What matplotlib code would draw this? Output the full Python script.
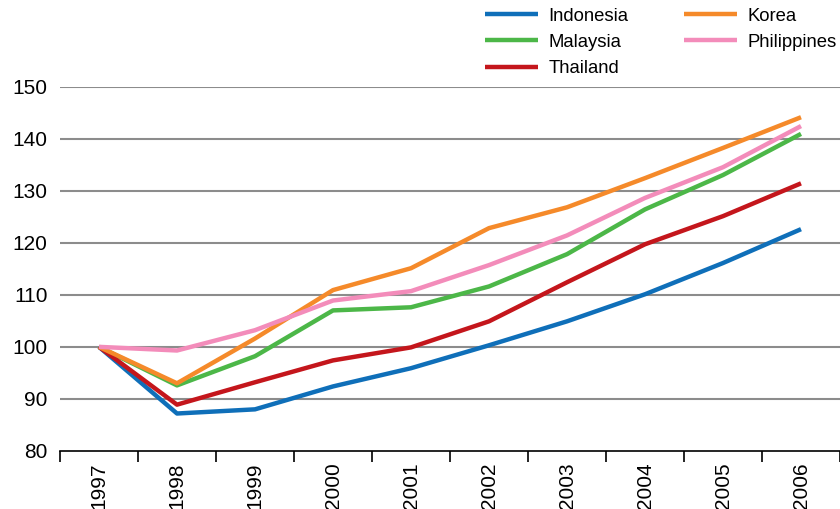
import numpy as np
import matplotlib
matplotlib.use("Agg")
import matplotlib.pyplot as plt

plt.rcParams['font.family'] = ['Liberation Sans', 'DejaVu Sans']

years = ['1997', '1998', '1999', '2000', '2001', '2002', '2003', '2004', '2005', '2006']
indonesia = [100, 87.2, 88.0, 92.4, 95.9, 100.3, 104.9, 110.1, 116.1, 122.6]
malaysia = [100, 92.6, 98.2, 107.0, 107.6, 111.6, 117.8, 126.4, 133.0, 140.9]
thailand = [100, 88.9, 93.2, 97.4, 99.9, 104.9, 112.4, 119.7, 125.1, 131.4]
korea = [100, 93.0, 101.6, 110.9, 115.1, 122.8, 126.8, 132.4, 138.2, 144.1]
philippines = [100, 99.3, 103.2, 108.9, 110.7, 115.7, 121.4, 128.6, 134.5, 142.4]

series = [
    ('Indonesia', indonesia, '#0f6fb9'),
    ('Malaysia', malaysia, '#4cb748'),
    ('Thailand', thailand, '#c4161c'),
    ('Korea', korea, '#f58a2a'),
    ('Philippines', philippines, '#f38cba'),
]

fig = plt.figure(figsize=(8.4, 5.09), dpi=100)
ax = fig.add_axes([60/840, 1 - 451/509, 780/840, (451 - 86.5)/509])

x = np.arange(len(years))
for name, vals, col in series:
    ax.plot(x, vals, color=col, linewidth=3.2, label=name, solid_capstyle='butt')

ax.set_xlim(-0.5, len(years) - 0.5)
ax.set_ylim(80, 150)
ax.set_yticks(np.arange(80, 151, 10))
for v in range(90, 151, 10):
    ax.axhline(v, color='#8c8c8c', linewidth=1.5, zorder=0)

ax.set_xticks(x)
ax.set_xticklabels(years, rotation=90)
ax.set_xticks(np.arange(-0.5, len(years)), minor=True)
ax.tick_params(axis='x', which='major', length=0, pad=8, labelsize=15)
ax.tick_params(axis='x', which='minor', length=8, width=1.2, color='black')
ax.tick_params(axis='y', length=0, pad=9, labelsize=15)

for s in ['top', 'right', 'left']:
    ax.spines[s].set_visible(False)
ax.spines['bottom'].set_linewidth(1.2)

ax.legend(loc='upper left', bbox_to_anchor=(481/840, 1 - 4/509), bbox_transform=fig.transFigure,
          ncol=2, frameon=False, fontsize=13.3, handlelength=2.9, handletextpad=0.55,
          columnspacing=3.0, labelspacing=0.5, borderaxespad=0.0, borderpad=0.2)

fig.savefig('out.png', dpi=100)
